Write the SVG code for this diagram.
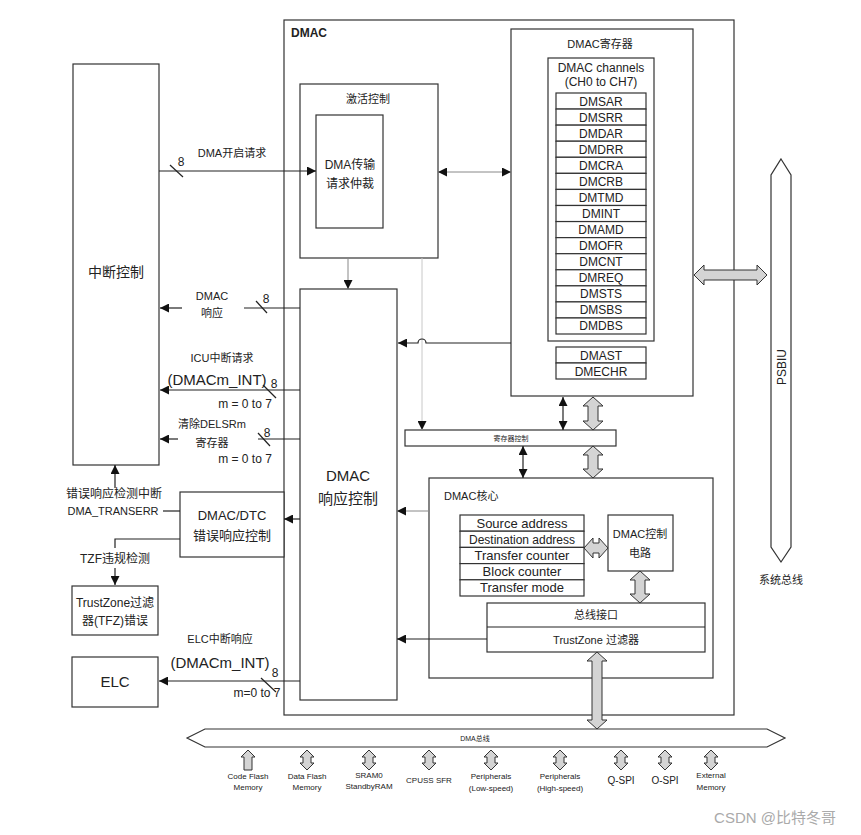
<svg xmlns="http://www.w3.org/2000/svg" width="861" height="835" viewBox="0 0 861 835">
<defs>
<style>
.bx{fill:#fff;stroke:#333;stroke-width:1.2}
.ln{fill:none;stroke:#222;stroke-width:1.2}
.lg{fill:none;stroke:#888;stroke-width:1}
.ll{fill:none;stroke:#c8c8c8;stroke-width:1}
.ga{fill:#d4d4d4;stroke:#333;stroke-width:1}
text{font-family:"Liberation Sans","Noto Sans CJK SC",sans-serif;fill:#222;text-anchor:middle}
.s11{font-size:11px}.s12{font-size:12px}.s13{font-size:13px}.s14{font-size:14px}.s15{font-size:15px}.s8{font-size:8px}
.l{text-anchor:start}
</style>
<marker id="ah" viewBox="0 0 10 10" refX="10" refY="5" markerWidth="9" markerHeight="9" markerUnits="userSpaceOnUse" orient="auto-start-reverse"><path d="M0,0 L10,5 L0,10 z" fill="#111"/></marker>
</defs>
<rect width="861" height="835" fill="#fff"/>

<g id="dmac-outer"><rect class="bx" x="284" y="20" width="450" height="695" fill="none"/><text x="291" y="37" class="s12 l" font-weight="bold">DMAC</text></g>

<g id="int-ctrl"><rect class="bx" x="73" y="64" width="86" height="401"/><text x="116" y="277" class="s14">中断控制</text></g>

<g id="act-ctrl"><rect class="bx" x="300" y="84" width="138" height="174"/><text x="368" y="103" class="s11">激活控制</text></g>
<g id="arb"><rect class="bx" x="316" y="115" width="67" height="113"/><text x="350" y="169" class="s12">DMA传输</text><text x="350" y="188" class="s12">请求仲裁</text></g>

<g id="resp-ctrl"><rect class="bx" x="300" y="289" width="97" height="411"/><text x="348" y="481" class="s15">DMAC</text><text x="348" y="504" class="s15">响应控制</text></g>

<g id="regs"><rect class="bx" x="511" y="29" width="182" height="367"/><text x="600" y="48" class="s11">DMAC寄存器</text>
<rect class="bx" x="548" y="58" width="106" height="283"/><text x="601" y="72" class="s12">DMAC channels</text><text x="601" y="86" class="s12">(CH0 to CH7)</text>
<g class="s12">
<rect class="bx" x="556" y="93" width="90" height="16.07"/><text x="601" y="105.5">DMSAR</text>
<rect class="bx" x="556" y="109.07" width="90" height="16.07"/><text x="601" y="121.6">DMSRR</text>
<rect class="bx" x="556" y="125.14" width="90" height="16.07"/><text x="601" y="137.6">DMDAR</text>
<rect class="bx" x="556" y="141.21" width="90" height="16.07"/><text x="601" y="153.7">DMDRR</text>
<rect class="bx" x="556" y="157.28" width="90" height="16.07"/><text x="601" y="169.8">DMCRA</text>
<rect class="bx" x="556" y="173.35" width="90" height="16.07"/><text x="601" y="185.8">DMCRB</text>
<rect class="bx" x="556" y="189.42" width="90" height="16.07"/><text x="601" y="201.9">DMTMD</text>
<rect class="bx" x="556" y="205.49" width="90" height="16.07"/><text x="601" y="218">DMINT</text>
<rect class="bx" x="556" y="221.56" width="90" height="16.07"/><text x="601" y="234">DMAMD</text>
<rect class="bx" x="556" y="237.63" width="90" height="16.07"/><text x="601" y="250.1">DMOFR</text>
<rect class="bx" x="556" y="253.7" width="90" height="16.07"/><text x="601" y="266.2">DMCNT</text>
<rect class="bx" x="556" y="269.77" width="90" height="16.07"/><text x="601" y="282.2">DMREQ</text>
<rect class="bx" x="556" y="285.84" width="90" height="16.07"/><text x="601" y="298.3">DMSTS</text>
<rect class="bx" x="556" y="301.91" width="90" height="16.07"/><text x="601" y="314.4">DMSBS</text>
<rect class="bx" x="556" y="317.98" width="90" height="16.02"/><text x="601" y="330.4">DMDBS</text>
<rect class="bx" x="556" y="347" width="90" height="16"/><text x="601" y="359.5">DMAST</text>
<rect class="bx" x="556" y="363" width="90" height="16"/><text x="601" y="375.5">DMECHR</text>
</g></g>

<g id="psbiu"><path class="bx" d="M781,159 L791,175 L791,547 L781,562 L771,547 L771,175 Z"/><text transform="translate(786,367) rotate(-90)" class="s12">PSBIU</text><text x="781" y="584" class="s11">系统总线</text></g>

<g id="reg-ctrl"><rect class="bx" x="405" y="430" width="211" height="16"/><text x="511" y="441" style="font-size:7px">寄存器控制</text></g>

<g id="core"><rect class="bx" x="429" y="478" width="284" height="200"/><text x="444" y="500" class="s11 l">DMAC核心</text>
<g class="s13">
<rect class="bx" x="460" y="515" width="124" height="16.2"/><text x="522" y="527.5">Source address</text>
<rect class="bx" x="460" y="531.2" width="124" height="16.2"/><text x="522" y="543.7" style="font-size:12px">Destination address</text>
<rect class="bx" x="460" y="547.4" width="124" height="16.2"/><text x="522" y="559.9">Transfer counter</text>
<rect class="bx" x="460" y="563.6" width="124" height="16.2"/><text x="522" y="576.1">Block counter</text>
<rect class="bx" x="460" y="579.8" width="124" height="16.2"/><text x="522" y="592.3">Transfer mode</text>
</g></g>
<g id="core-ctrl"><rect class="bx" x="608" y="515" width="65" height="56"/><text x="640" y="538" class="s11">DMAC控制</text><text x="640" y="557" class="s11">电路</text></g>
<g id="bus-if"><rect class="bx" x="487" y="603" width="218" height="49"/><line class="ln" x1="487" y1="627" x2="705" y2="627"/><text x="596" y="619" class="s11">总线接口</text><text x="596" y="644" class="s11">TrustZone 过滤器</text></g>

<g id="err-ctrl"><rect class="bx" x="180" y="492" width="104" height="65"/><text x="232" y="520" class="s13">DMAC/DTC</text><text x="232" y="540" class="s13">错误响应控制</text></g>
<g id="tzf"><rect class="bx" x="72" y="586" width="86" height="49"/><text x="115" y="607" class="s12">TrustZone过滤</text><text x="115" y="625" class="s12">器(TFZ)错误</text></g>
<g id="elc"><rect class="bx" x="72" y="657" width="86" height="50"/><text x="115" y="687" class="s15">ELC</text></g>

<g id="dma-bus"><path class="bx" d="M187,738 L205,729 L767,729 L785,738 L767,747 L205,747 Z"/><text x="475" y="741" style="font-size:7px">DMA总线</text></g>

<g id="periph" class="s8">
<path class="ga" d="M248,750 L255,757 L252,757 L252,770 L244,770 L244,757 L241,757 Z"/>
<text x="248" y="779">Code Flash</text><text x="248" y="790">Memory</text>
<path class="ga" d="M307,750 L314,757 L311,757 L311,763 L314,763 L307,770 L300,763 L303,763 L303,757 L300,757 Z"/>
<text x="307" y="779">Data Flash</text><text x="307" y="790">Memory</text>
<path class="ga" d="M369,750 L376,757 L373,757 L373,763 L376,763 L369,770 L362,763 L365,763 L365,757 L362,757 Z"/>
<text x="369" y="778">SRAM0</text><text x="369" y="789">StandbyRAM</text>
<path class="ga" d="M429,750 L436,757 L433,757 L433,763 L436,763 L429,770 L422,763 L425,763 L425,757 L422,757 Z"/>
<text x="429" y="783">CPUSS SFR</text>
<path class="ga" d="M491,750 L498,757 L495,757 L495,763 L498,763 L491,770 L484,763 L487,763 L487,757 L484,757 Z"/>
<text x="491" y="779">Peripherals</text><text x="491" y="791">(Low-speed)</text>
<path class="ga" d="M560,750 L567,757 L564,757 L564,763 L567,763 L560,770 L553,763 L556,763 L556,757 L553,757 Z"/>
<text x="560" y="779">Peripherals</text><text x="560" y="791">(High-speed)</text>
<path class="ga" d="M621,750 L628,757 L625,757 L625,763 L628,763 L621,770 L614,763 L617,763 L617,757 L614,757 Z"/>
<text x="621" y="784" style="font-size:10px">Q-SPI</text>
<path class="ga" d="M665,750 L672,757 L669,757 L669,763 L672,763 L665,770 L658,763 L661,763 L661,757 L658,757 Z"/>
<text x="665" y="784" style="font-size:10px">O-SPI</text>
<path class="ga" d="M711,750 L718,757 L715,757 L715,763 L718,763 L711,770 L704,763 L707,763 L707,757 L704,757 Z"/>
<text x="711" y="778">External</text><text x="711" y="790">Memory</text>
</g>

<g id="connectors">
<line class="ln" x1="159" y1="171" x2="316" y2="171" marker-end="url(#ah)"/>
<line class="ln" x1="170" y1="165" x2="183" y2="177"/>
<line class="lg" x1="438" y1="172" x2="511" y2="172" marker-start="url(#ah)" marker-end="url(#ah)"/>
<line class="lg" x1="348" y1="258" x2="348" y2="289" marker-end="url(#ah)"/>
<line class="ll" x1="422" y1="258" x2="422" y2="430" marker-end="url(#ah)"/>
<path class="ln" d="M511,343 L426,343 A4,4 0 0 0 418,343 L398,343" marker-end="url(#ah)"/>

<line class="ln" x1="244" y1="308" x2="300" y2="308"/>
<line class="ln" x1="182" y1="308" x2="160" y2="308" marker-end="url(#ah)"/>
<line class="ln" x1="256" y1="301" x2="267" y2="313"/>
<line class="ln" x1="300" y1="390" x2="160" y2="390" marker-end="url(#ah)"/>
<line class="ln" x1="263" y1="385" x2="276" y2="398"/>
<line class="ln" x1="258" y1="439" x2="300" y2="439"/>
<line class="ln" x1="178" y1="439" x2="160" y2="439" marker-end="url(#ah)"/>
<line class="ln" x1="258" y1="433" x2="270" y2="446"/>

<line class="ln" x1="115" y1="488" x2="115" y2="465" marker-end="url(#ah)"/>
<line class="ln" x1="163" y1="511" x2="180" y2="511"/>
<line class="ln" x1="300" y1="519" x2="284" y2="519" marker-end="url(#ah)"/>
<polyline class="ln" points="180,539 115,539 115,548"/>
<line class="ln" x1="115" y1="568" x2="115" y2="585" marker-end="url(#ah)"/>
<line class="ln" x1="300" y1="681" x2="159" y2="681" marker-end="url(#ah)"/>
<line class="ln" x1="261" y1="678" x2="276" y2="692"/>

<line class="lg" x1="429" y1="511" x2="397" y2="511" marker-end="url(#ah)"/>
<line class="ln" x1="487" y1="639" x2="397" y2="639" marker-end="url(#ah)"/>

<line class="ln" x1="563" y1="397" x2="563" y2="430" marker-start="url(#ah)" marker-end="url(#ah)"/>
<line class="ln" x1="523" y1="446" x2="523" y2="478" marker-start="url(#ah)" marker-end="url(#ah)"/>
<path class="ga" d="M593,397 L603,406 L598,406 L598,421 L603,421 L593,430 L583,421 L588,421 L588,406 L583,406 Z"/>
<path class="ga" d="M593,446 L603,455 L598,455 L598,469 L603,469 L593,478 L583,469 L588,469 L588,455 L583,455 Z"/>
<path class="ga" d="M584,548 L593,538 L593,543 L599,543 L599,538 L608,548 L599,558 L599,553 L593,553 L593,558 Z"/>
<path class="ga" d="M640,571 L650,580 L645,580 L645,594 L650,594 L640,603 L630,594 L635,594 L635,580 L630,580 Z"/>
<path class="ga" d="M597,652 L607,661 L602,661 L602,720 L607,720 L597,729 L587,720 L592,720 L592,661 L587,661 Z"/>
<path class="ga" d="M694,275 L704,265 L704,270 L757,270 L757,265 L767,275 L757,285 L757,280 L704,280 L704,285 Z"/>
</g>

<g id="labels">
<text x="232" y="157" class="s11">DMA开启请求</text><text x="181" y="166" class="s12">8</text>
<text x="212" y="300" class="s11">DMAC</text><text x="212" y="317" class="s11">响应</text><text x="266" y="303" class="s12">8</text>
<text x="222" y="362" class="s11">ICU中断请求</text><text x="217" y="385" class="s15">(DMACm_INT)</text><text x="274" y="388" class="s12">8</text><text x="245" y="408" class="s12">m = 0 to 7</text>
<text x="212" y="428" class="s11">清除DELSRm</text><text x="212" y="447" class="s11">寄存器</text><text x="267" y="437" class="s12">8</text><text x="245" y="463" class="s12">m = 0 to 7</text>
<text x="114" y="498" class="s12">错误响应检测中断</text><text x="113" y="515" style="font-size:11px">DMA_TRANSERR</text>
<text x="115" y="563" class="s12">TZF违规检测</text>
<text x="220" y="643" class="s11">ELC中断响应</text><text x="220" y="668" class="s15">(DMACm_INT)</text><text x="275" y="677" class="s12">8</text><text x="257" y="697" class="s12">m=0 to 7</text>
<text x="775" y="823" style="font-size:15px;fill:#aaa">CSDN @比特冬哥</text>
</g>
</svg>
